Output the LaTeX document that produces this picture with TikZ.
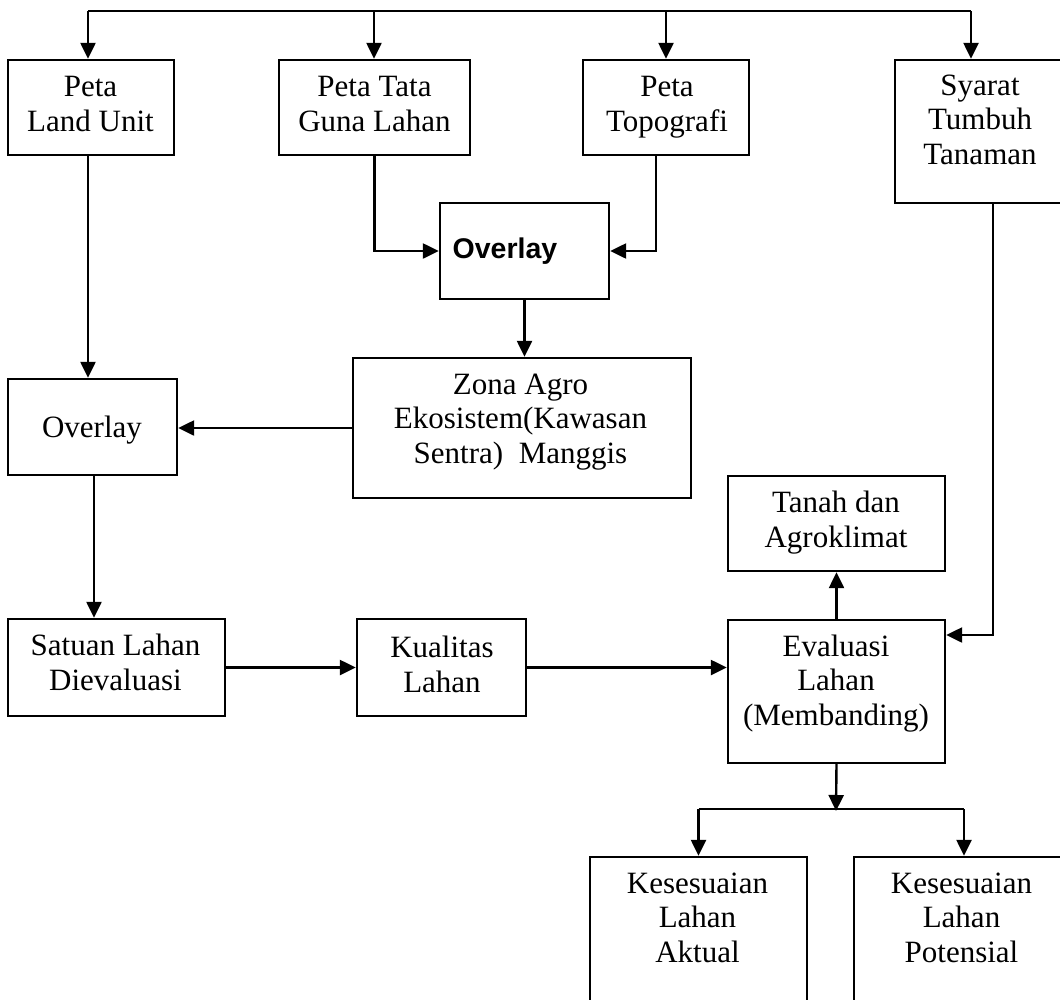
\documentclass[tikz,border=0pt]{standalone}
\usepackage{fontspec}
\setmainfont{Liberation Serif}
\newfontfamily\arialfont{Liberation Sans}
\usetikzlibrary{arrows.meta,calc}
\tikzset{
  box/.style={draw,line width=2.4pt,rectangle,inner sep=0pt},
  lbl/.style={align=center,inner sep=0pt,anchor=base,font=\fontsize{31}{34.5}\selectfont},
  conn/.style={line width=2.4pt},
  arr/.style={line width=2.4pt,-{Triangle[length=16pt,width=15pt]}}
}
\begin{document}
\begin{tikzpicture}[x=1pt,y=-1pt]
\useasboundingbox (0,0) rectangle (1060,999);
\clip (0,0) rectangle (1060,999);
% boxes
\node[box,minimum width=166,minimum height=95] (landunit) at (91,107.5) {};
\node[box,minimum width=191,minimum height=95] (tata) at (374.5,107.5) {};
\node[box,minimum width=166,minimum height=95] (topo) at (666,107.5) {};
\node[box,minimum width=170,minimum height=143] (syarat) at (980,131.5) {};
\node[box,minimum width=169,minimum height=96] (ovb) at (524.5,251) {};
\node[box,minimum width=338,minimum height=140] (zona) at (522,428) {};
\node[box,minimum width=169,minimum height=96] (ovl) at (92.5,427) {};
\node[box,minimum width=217,minimum height=97] (satuan) at (116.5,667.5) {};
\node[box,minimum width=169,minimum height=97] (kual) at (441.5,667.5) {};
\node[box,minimum width=217,minimum height=95] (tanah) at (836.5,523.5) {};
\node[box,minimum width=217,minimum height=143] (eval) at (836.5,691.5) {};
\node[box,minimum width=217,minimum height=193] (aktual) at (698.5,953.5) {};
\node[box,minimum width=220,minimum height=193] (poten) at (964,953.5) {};
% texts (anchor base = baseline of last line)
\node[lbl] (tlandunit) at (90.5,131) {Peta\\Land Unit};
\node[lbl] (ttata) at (374.5,131) {Peta Tata\\Guna Lahan};
\node[lbl] (ttopo) at (667,131) {Peta\\Topografi};
\node[lbl] (tsyarat) at (980,164) {Syarat\\Tumbuh\\Tanaman};
\node[lbl,font=\arialfont\bfseries\fontsize{28.5}{34}\selectfont] (tovb) at (505,258) {Overlay};
\node[lbl] (tzona) at (520.5,463) {Zona Agro\\Ekosistem(Kawasan\\Sentra)~ Manggis};
\node[lbl] (tovl) at (92,437) {Overlay};
\node[lbl] (tsatuan) at (115.5,690) {Satuan Lahan\\Dievaluasi};
\node[lbl] (tkual) at (442,692) {Kualitas\\Lahan};
\node[lbl] (ttanah) at (836,547) {Tanah dan\\Agroklimat};
\node[lbl] (teval) at (836,725) {Evaluasi\\Lahan\\(Membanding)};
\node[lbl] (taktual) at (697.5,962) {Kesesuaian\\Lahan\\Aktual};
\node[lbl] (tpoten) at (961.5,962) {Kesesuaian\\Lahan\\Potensial};
% top distribution line
\coordinate (t1) at (88,11);
\coordinate (t2) at (374,11);
\coordinate (t3) at (666,11);
\coordinate (t4) at (971,11);
\draw[conn] (t1) -- (t4);
\draw[arr] (t1) -- (t1 |- landunit.north);
\draw[arr] (t2) -- (t2 |- tata.north);
\draw[arr] (t3) -- (t3 |- topo.north);
\draw[arr] (t4) -- (t4 |- syarat.north);
% into bold overlay
\draw[arr] (tata.south) |- (ovb.west);
\coordinate (topoout) at (656,155);
\draw[arr] (topoout) |- (ovb.east);
\draw[arr] (ovb.south) -- (ovb.south |- zona.north);
% left column
\coordinate (luout) at (88,155);
\draw[arr] (luout) -- (luout |- ovl.north);
\draw[arr] (zona.west) -- (zona.west -| ovl.east);
\coordinate (ovlout) at (94,475);
\draw[arr] (ovlout) -- (ovlout |- satuan.north);
\draw[arr] (satuan.east) -- (satuan.east -| kual.west);
\draw[arr] (kual.east) -- (kual.east -| eval.west);
% right side
\draw[arr] (eval.north) -- (tanah.south);
\coordinate (syout) at (993,203);
\coordinate (sycorner) at (993,635);
\draw[arr] (syout) -- (sycorner) -- (sycorner -| eval.east);
% split
\coordinate (junc) at (836,811);
\coordinate (jl) at (698.5,809);
\coordinate (jr) at (964,809);
\draw[arr] (eval.south) -- (junc);
\draw[conn] (jl) -- (jr);
\draw[arr] (jl) -- (jl |- aktual.north);
\draw[arr] (jr) -- (jr |- poten.north);
\end{tikzpicture}
\end{document}
